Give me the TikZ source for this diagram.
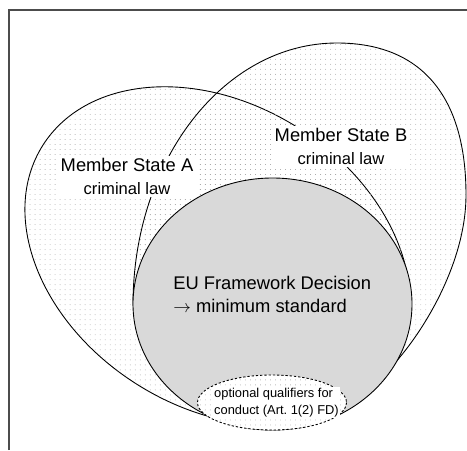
\documentclass[tikz,border=0pt]{standalone}
\usepackage{fontspec}
\setmainfont{Liberation Sans}
\usetikzlibrary{patterns.meta}

\tikzset{
    dotfill/.style={pattern={Dots[distance=2.84pt,radius=0.25pt]},pattern color=black!35},
    outline/.style={line width=0.5pt},
    lbl/.style={fill=white,inner sep=1.5pt,align=center,font=\fontsize{10.4}{13}\selectfont}
}

\begin{document}
\begin{tikzpicture}[x=0.567pt,y=-0.567pt]
        \useasboundingbox (0,0) rectangle (467,450);
        \coordinate (A) at (217.5,256);
        \coordinate (C) at (272.5,304);
        \coordinate (D) at (272,402.5);

        \draw[black!70,line width=0.6pt] (9,450) -- (9,10) -- (467,10);

        \draw[outline,dotfill,rotate around={-32.4:(A)}] (A) ellipse [x radius=206.8,y radius=151.5];
        \draw[outline,dotfill] (133,305) .. controls (133,160) and (224,43) .. (337,43)
            .. controls (421,43) and (466,96) .. (466,195)
            .. controls (466,255) and (432,318.5) .. (400,357) -- (385,375) -- (140,320) -- cycle;

        \draw[outline,fill=gray!30] (C) ellipse [x radius=139.5,y radius=126];
        \draw[outline,dash pattern=on 1.3pt off 1.1pt,preaction={fill=white},dotfill] (D) ellipse [x radius=74.5,y radius=27.5];

        \node[lbl] (LB) at (341,146.5) {Member State B\\{\fontsize{9.4}{11}\selectfont criminal law}};
        \node[lbl] (LA) at (127,176.5) {Member State A\\{\fontsize{9.4}{11}\selectfont criminal law}};
        \node[anchor=west,inner sep=0pt,align=left,font=\fontsize{10.4}{13}\selectfont] (EU) at (173,294.5) {EU Framework Decision\\$\rightarrow$ minimum standard};
        \node[anchor=west,fill=white,inner sep=0.5pt,align=left,font=\fontsize{7.3}{9.6}\selectfont] (Q) at (213,402.5) {optional qualifiers for\\conduct (Art.~1(2) FD)};
\end{tikzpicture}
\end{document}
